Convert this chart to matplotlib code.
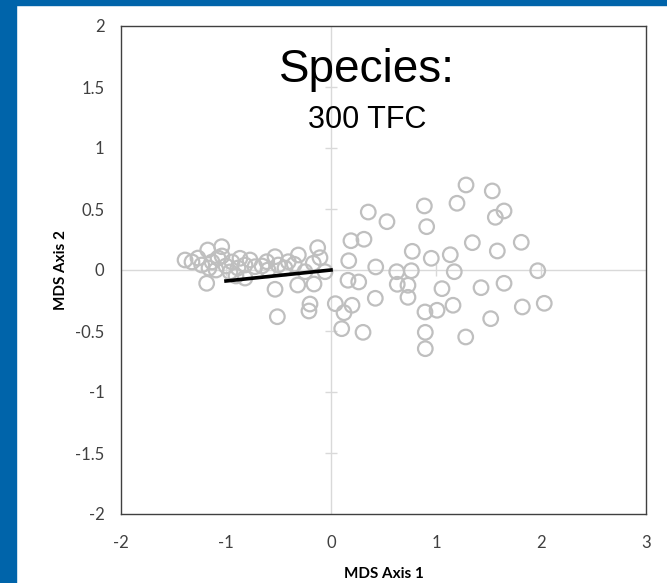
import matplotlib
matplotlib.use("Agg")
import matplotlib.pyplot as plt
from matplotlib.patches import Rectangle

# MDS site scores (axis 1, axis 2)
mds1 = [
    # right-hand spread
    1.286, 1.536, 0.889, 1.200, 0.355, 0.533, 0.911, 1.565, 1.648, 0.190,
    0.314, 1.346, 1.812, 0.774, 0.955, 1.136, 1.584, 0.169, 0.426, 0.626,
    0.765, 1.174, 1.969, 0.162, 0.264, 0.631, 0.733, 1.057, 1.429, 1.648,
    0.041, 0.200, 0.124, 0.422, 0.733, 0.895, 1.010, 1.162, 1.521, 1.822,
    2.031, 0.102, 0.305, 0.898, 1.283, 0.898,
    # left cluster
    -0.127, -0.105, -0.311, -0.533, -0.612, -0.407, -0.350, -0.169, -0.057, -0.771,
    -0.724, -0.502, -0.248, -0.533, -0.317, -0.162, -0.511, -0.200, -0.210,
    -1.041, -1.174, -1.390, -1.324, -1.231, -1.184, -0.867, -1.133, -1.076, -1.000,
    -0.943, -1.095, -0.962, -0.886, -0.819, -1.162, -1.267, -1.038, -0.905, -0.819,
    -0.657, -0.600, -0.438,
]
mds2 = [
    0.697, 0.648, 0.525, 0.547, 0.475, 0.396, 0.355, 0.432, 0.484, 0.240,
    0.252, 0.224, 0.227, 0.153, 0.096, 0.125, 0.156, 0.076, 0.025, -0.014,
    -0.006, -0.014, -0.006, -0.084, -0.098, -0.117, -0.125, -0.153, -0.145, -0.109,
    -0.276, -0.289, -0.350, -0.232, -0.224, -0.344, -0.330, -0.289, -0.399, -0.303,
    -0.273, -0.481, -0.511, -0.511, -0.549, -0.645,
    0.183, 0.101, 0.123, 0.109, 0.068, 0.068, 0.047, 0.055, -0.014, 0.082,
    0.027, 0.041, -0.014, -0.158, -0.123, -0.115, -0.383, -0.279, -0.336,
    0.191, 0.164, 0.082, 0.066, 0.041, -0.109, 0.096, 0.066, 0.098, 0.033,
    0.066, 0.000, -0.016, 0.016, 0.041, 0.016, 0.098, 0.115, -0.049, -0.066,
    0.033, 0.000, 0.016,
]

# species vector
vec_x = [-1.0, 0.0]
vec_y = [-0.09, 0.0]

xticks = [-2, -1, 0, 1, 2, 3]
yticks = [-2, -1.5, -1, -0.5, 0, 0.5, 1, 1.5, 2]
ytick_labels = ["-2", "-1.5", "-1", "-0.5", "0", "0.5", "1", "1.5", "2"]

fig = plt.figure(figsize=(6.67, 5.83), dpi=100)
fig.patches.append(Rectangle((0, 0), 16 / 667, 1, transform=fig.transFigure,
                             color="#0064AA", zorder=0))
fig.patches.append(Rectangle((0, 1 - 5 / 583), 1, 5 / 583, transform=fig.transFigure,
                             color="#0064AA", zorder=0))

ax = fig.add_axes([121 / 667, 69 / 583, 525 / 667, 488 / 583])
ax.set_xlim(-2, 3)
ax.set_ylim(-2, 2)

ax.axhline(0, color="#D9D9D9", lw=1, zorder=1)
ax.axvline(0, color="#D9D9D9", lw=1, zorder=1)
ax.plot(xticks[1:-1], [0] * len(xticks[1:-1]), ls="none", marker="|",
        ms=8, color="#D9D9D9", zorder=1)
ax.plot([0] * len(yticks[1:-1]), yticks[1:-1], ls="none", marker="_",
        ms=8, color="#D9D9D9", zorder=1)

ax.scatter(mds1, mds2, s=110, facecolors="none", edgecolors="#BFBFBF",
           linewidths=1.6, zorder=2)
ax.plot(vec_x, vec_y, color="black", lw=2.6, zorder=3)

ax.set_xticks(xticks)
ax.set_xticklabels([str(t) for t in xticks])
ax.set_yticks(yticks)
ax.set_yticklabels(ytick_labels)
ax.tick_params(length=0, labelsize=12, labelcolor="#404040")
ax.tick_params(axis="x", pad=15)
ax.tick_params(axis="y", pad=12)
for lab in ax.get_xticklabels() + ax.get_yticklabels():
    lab.set_family("Lato")

for sp in ax.spines.values():
    sp.set_color("#404040")
    sp.set_linewidth(1)

ax.set_xlabel("MDS Axis 1", fontsize=11, fontweight="bold", family="Lato",
              labelpad=12)
ax.set_ylabel("MDS Axis 2", fontsize=11, fontweight="bold", family="Lato",
              labelpad=5)

ax.text(0.469, 0.91, "Species:", transform=ax.transAxes, ha="center",
        va="center", fontsize=33, family="Liberation Sans")
ax.text(0.469, 0.808, "300 TFC", transform=ax.transAxes, ha="center",
        va="center", fontsize=22, family="Liberation Sans")

fig.savefig("out.png", dpi=100)
